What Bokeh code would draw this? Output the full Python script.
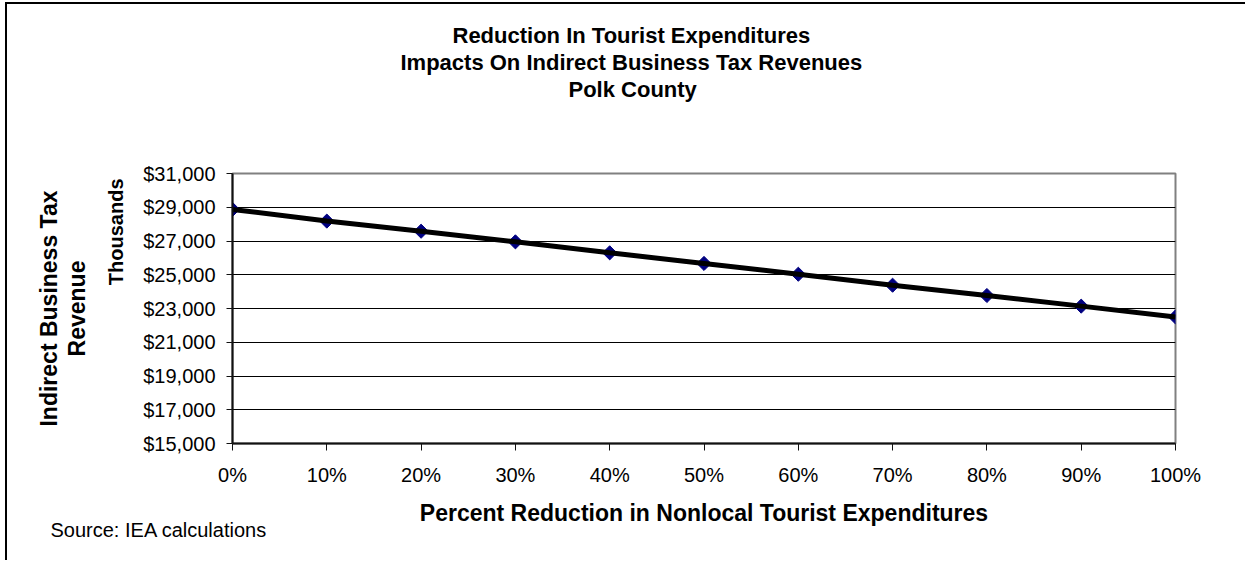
import numpy as np
from bokeh.plotting import figure
from bokeh.models import Range1d, FixedTicker, NumeralTickFormatter, Title
from bokeh.embed import file_html
from bokeh.resources import INLINE

# ---- data ----
reduction = [0.0, 0.1, 0.2, 0.3, 0.4, 0.5, 0.6, 0.7, 0.8, 0.9, 1.0]
revenue = [28870, 28180, 27580, 26950, 26300, 25670, 25030, 24380, 23770, 23140, 22500]
y_ticks = [15000, 17000, 19000, 21000, 23000, 25000, 27000, 29000, 31000]
x_ticks = reduction
title_lines = ["Reduction In Tourist Expenditures",
               "Impacts On Indirect Business Tax Revenues",
               "Polk County"]
x_label = "Percent Reduction in Nonlocal Tourist Expenditures"
y_label_lines = ["Indirect Business Tax", "Revenue"]
y_units_label = "Thousands"
source_text = "Source: IEA  calculations"

FONT = "Liberation Sans"
W, H = 1240, 558
ML, MR, MT, MB = 225, 72, 169, 119

p = figure(width=W, height=H, output_backend="svg", toolbar_location=None,
           x_range=Range1d(0, 1), y_range=Range1d(15000, 31000),
           min_border_left=ML, min_border_right=MR,
           min_border_top=MT, min_border_bottom=MB)
p.styles = {"border-left": "2px solid #000", "border-top": "2px solid #000",
            "margin-left": "5px", "margin-top": "2px"}

p.background_fill_color = "white"
p.border_fill_color = "white"
p.outline_line_color = "#808080"
p.outline_line_width = 2

p.xgrid.visible = False
p.ygrid.grid_line_color = "black"
p.ygrid.grid_line_width = 1

p.xaxis.ticker = FixedTicker(ticks=x_ticks)
p.xaxis.formatter = NumeralTickFormatter(format="0%")
p.yaxis.ticker = FixedTicker(ticks=y_ticks)
p.yaxis.formatter = NumeralTickFormatter(format="$0,0")

for ax in (p.xaxis[0], p.yaxis[0]):
    ax.axis_line_color = "#111111"
    ax.axis_line_width = 2
    ax.major_tick_line_color = "#111111"
    ax.major_tick_line_width = 1
    ax.major_tick_in = 0
    ax.minor_tick_line_color = None
    ax.major_label_text_font = FONT
    ax.major_label_text_font_size = "20px"
    ax.major_label_text_color = "black"
p.xaxis.major_tick_out = 7
p.xaxis.major_label_standoff = 13
p.yaxis.major_tick_out = 6
p.yaxis.major_label_standoff = 11

p.xaxis.axis_label = x_label
p.xaxis.axis_label_text_font = FONT
p.xaxis.axis_label_text_font_size = "23px"
p.xaxis.axis_label_text_font_style = "bold"
p.xaxis.axis_label_text_color = "black"
p.xaxis.axis_label_standoff = 11

p.scatter(reduction, revenue, marker="square", angle=np.pi / 4, size=10,
          fill_color="#000080", line_color="#000080")
p.line(reduction, revenue, line_color="black", line_width=5)


def make_title(text, size, bold=True, align="center", offset=0, standoff=0,
               valign="bottom"):
    return Title(text=text, align=align, offset=offset, standoff=standoff,
                 vertical_align=valign,
                 text_font=FONT, text_font_size=size,
                 text_font_style="bold" if bold else "normal",
                 text_color="black")


# titles above: closest to the frame first (first one is an empty spacer)
p.add_layout(make_title(" ", "22px", standoff=45), "above")
p.add_layout(make_title(title_lines[2], "22px", align="left", offset=336), "above")
p.add_layout(make_title(title_lines[1], "22px", align="left", offset=168), "above")
p.add_layout(make_title(title_lines[0], "22px", align="left", offset=220), "above")

# left side labels
p.add_layout(make_title(y_units_label, "20px", align="right", offset=5, standoff=27), "left")
p.add_layout(make_title(y_label_lines[1], "23px", align="center", standoff=0), "left")
p.add_layout(make_title(y_label_lines[0], "23px", align="center", standoff=0), "left")

# source note below
p.add_layout(make_title(source_text, "20px", bold=False, align="left", offset=-182,
                        standoff=-20, valign="top"), "below")

open("out.html", "w").write(file_html(p, INLINE))
